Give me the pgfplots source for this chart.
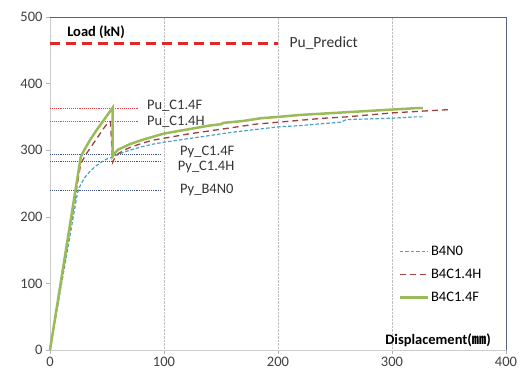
\documentclass[border=0pt]{standalone}
\usepackage{fontspec}
\setmainfont{Carlito}
\newfontfamily\cjk{Noto Sans CJK KR}
\usepackage{pgfplots}
\pgfplotsset{compat=1.18}
\definecolor{cgreen}{RGB}{155,187,89}
\definecolor{cred}{RGB}{160,64,62}
\definecolor{cblue}{RGB}{75,160,198}
\definecolor{cpred}{RGB}{224,40,40}
\definecolor{cpu}{RGB}{220,70,70}
\definecolor{cpy}{RGB}{60,80,130}
\definecolor{frame}{RGB}{90,100,115}
\begin{document}
\begin{tikzpicture}
\begin{axis}[
  scale only axis, width=456pt, height=333pt,
  xmin=0, xmax=400, ymin=0, ymax=500,
  xtick={0,100,...,400}, ytick={0,100,...,500},
  xtick pos=left, ytick pos=left,
  tick align=outside, major tick length=4pt,
  tick style={draw=gray!60},
  xmajorgrids, grid style={densely dotted, gray!50},
  axis line style={draw=none},
  tick label style={font=\fontsize{14.5}{16}\selectfont, text=black!75},
  /pgf/number format/assume math mode=true,
  clip=false,
  legend style={at={(0.764,0.318)}, anchor=north west, draw=none, fill=none,
    font=\fontsize{14.5}{16}\selectfont, row sep=8pt, inner sep=0pt,
    nodes={inner sep=2pt}},
  legend cell align=left,
  legend image code/.code={\draw[#1] (0pt,0pt) -- (28pt,0pt);},
]
% frame
\draw[gray!40, line width=0.8pt] (axis cs:0,500) -- (axis cs:0,0) -- (axis cs:400,0);
\draw[frame, line width=0.8pt] (axis cs:0,500) -- (axis cs:400,500) -- (axis cs:400,0);

% reference lines
\addplot[cpred, line width=2.5pt, dash pattern=on 10pt off 6pt, forget plot] coordinates {(0,460) (200,460)};
\addplot[cpu, densely dotted, line width=0.9pt, forget plot] coordinates {(0,363) (78,363)};
\addplot[cpu, densely dotted, line width=0.9pt, forget plot] coordinates {(0,343) (78,343)};
\addplot[cpy, densely dotted, line width=0.9pt, forget plot] coordinates {(0,293) (98,293)};
\addplot[cpy, densely dotted, line width=0.9pt, forget plot] coordinates {(0,283) (98,283)};
\addplot[cpy, densely dotted, line width=0.9pt, forget plot] coordinates {(0,240) (98,240)};

% curves
\addplot[cblue, line width=1.2pt, dash pattern=on 3.5pt off 2pt] coordinates {
(0,0) (24,235) (26,245) (30,258) (35,268) (40,276) (45,282) (50,287) (55,290) (60,294) (70,300) (80,305) (90,309) (100,312) (120,317) (140,322) (160,327) (180,331) (200,335) (220,337) (240,340) (255,342) (260,346) (280,347) (300,348) (320,350) (327,350)};
\addlegendentry{B4N0}
\addplot[cred, line width=1.3pt, dash pattern=on 6pt off 4pt] coordinates {
(0,0) (27,280) (32,295) (38,310) (44,325) (48,335) (52,343) (53,343) (55,282) (57,289) (60,295) (65,300) (70,304) (80,310) (90,315) (100,318) (120,324) (140,329) (160,334) (180,339) (200,342) (220,345) (240,348) (260,350) (280,353) (300,356) (320,358) (340,360) (351,361)};
\addlegendentry{B4C1.4H}
\addplot[cgreen, line width=2.5pt] coordinates {
(0,0) (27,290) (30,300) (35,315) (40,328) (45,340) (50,352) (55,364) (55,291) (57,296) (60,301) (65,305) (70,309) (80,315) (90,320) (100,325) (110,328) (120,331) (130,334) (140,337) (150,339) (152,341) (170,344) (185,348) (200,350) (220,353) (240,355) (260,357) (280,359) (300,361) (320,363) (327,363)};
\addlegendentry{B4C1.4F}

% labels
\tikzset{lab/.style={anchor=west, font=\fontsize{14.5}{16}\selectfont, text=black!80, inner sep=0pt}}
\node[lab] at (axis cs:210,461) {\fontsize{15.5}{17}\selectfont Pu\_Predict};
\node[lab] at (axis cs:85,366) {Pu\_C1.4F};
\node[lab] at (axis cs:85,343) {Pu\_C1.4H};
\node[lab] at (axis cs:114,298) {Py\_C1.4F};
\node[lab] at (axis cs:112,275) {Py\_C1.4H};
\node[lab] at (axis cs:114,241) {Py\_B4N0};
\node[anchor=west, font=\bfseries\fontsize{14.5}{16}\selectfont, inner sep=0pt] at (axis cs:15,477) {Load (kN)};
\node[anchor=east, font=\bfseries\fontsize{14.5}{16}\selectfont, inner sep=0pt] at (axis cs:387,15) {Displacement({\cjk ㎜})};
\end{axis}
\pgfresetboundingbox
\useasboundingbox ([shift={(-50pt,-31pt)}]current axis.south west) rectangle ([shift={(23pt,17pt)}]current axis.north east);
\end{tikzpicture}
\end{document}
